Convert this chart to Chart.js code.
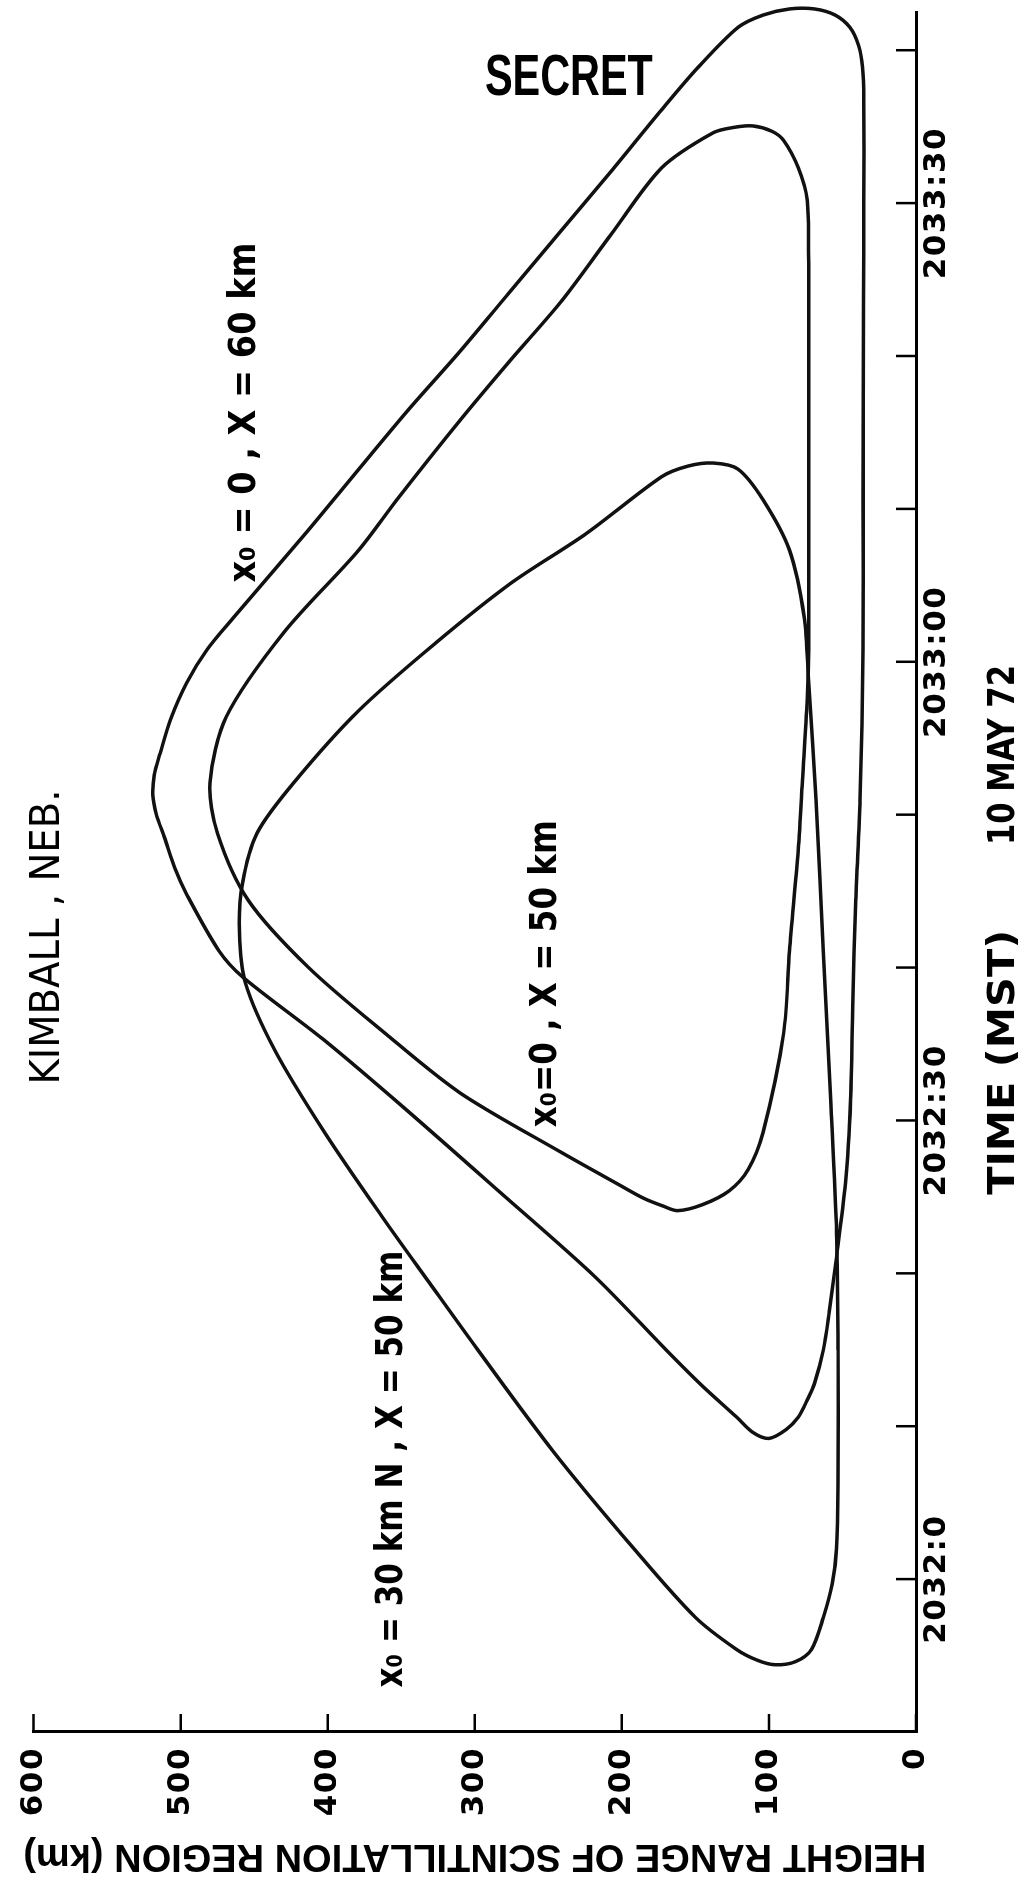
<!DOCTYPE html>
<html>
<head>
<meta charset="utf-8">
<script src="https://cdn.jsdelivr.net/npm/chart.js"></script>
<style>
  html, body { margin: 0; padding: 0; background: #fff; overflow: hidden; }
  #wrap { position: relative; width: 1018px; height: 1888px; }
  /* la figura original está girada: el gráfico se dibuja acostado y se gira -90° */
  #heightChart { position: absolute; left: 0; top: 0; transform-origin: 0 0; transform: translate(0, 1888px) rotate(-90deg); }
</style>
</head>
<body>
<div id="wrap"><canvas id="heightChart" width="1888" height="1018"></canvas></div>
<script>
// Marcas de los ejes
const timeTickMarks = [0, 10, 20, 30, 40, 50, 60, 70, 80, 90, 100];
const timeTickValues = [0, 30, 60, 90];
const timeTickLabels = ['2032:0', '2032:30', '2033:00', '2033:30'];
const heightTicks = [0, 100, 200, 300, 400, 500, 600];

// x0 = 0 , X = 60 km (segundos desde 2032:00, altura en km)
const timeX60 = [70.6, 60.8, 51.0, 44.4, 37.5, 31.3, 25.9, 20.4, 17.5, 15.0, 12.8, 11.7, 10.6, 9.8, 9.2, 9.6, 10.6, 12.7, 15.0, 19.75, 25.4, 30.9, 35.3, 39.4, 41.1, 44.8, 46.5, 48.5, 50.0, 51.3, 52.6, 54.0, 56.2, 58.6, 60.8, 62.9, 68.4, 72.7, 76.5, 80.2, 84.1, 88.0, 92.0, 96.1, 98.9, 101.5, 102.3, 102.7, 102.7, 102.3, 101.5, 100.3, 98.9, 96.7, 90.0, 83.6, 70.6];
const heightX60 = [36, 36, 38, 41, 43, 44.5, 48, 55, 59, 63, 69, 74, 80, 88, 100, 111, 122, 146, 170, 218, 284, 349, 403, 458, 474, 496, 504, 511, 516.5, 519, 518, 514, 507, 496, 482, 464, 415, 378, 345, 311, 277, 243, 208, 173, 148, 121, 104, 86, 69, 55, 45, 39, 36.4, 35.5, 35.5, 35.7, 36];

// x0 = 0 , X = 50 km
const timeX50 = [70.6, 60.8, 57.5, 52.5, 47.7, 41.1, 35.7, 29.2, 26.8, 25.4, 24.5, 24.1, 24.4, 24.9, 25.8, 27.9, 31.8, 35.7, 40.0, 44.4, 48.8, 52.1, 56.4, 61.9, 67.3, 70.6, 75.8, 79.7, 83.6, 88.0, 92.3, 94.6, 94.95, 95.05, 94.7, 94.1, 92.3, 90.2, 86.0, 83.6, 70.6];
const heightX50 = [73, 73, 74, 77, 80, 86, 90, 104, 114, 127, 145, 162, 172, 185, 202, 241, 310, 361, 413, 454, 475, 480, 469, 430, 379, 353, 310, 276, 241, 207, 173, 138, 124, 111, 98, 90, 80, 74, 73, 73, 73];

// x0 = 30 km N , X = 50 km
const time30N = [15.0, 6.3, 2.0, -0.3, -2.5, -4.6, -5.4, -5.6, -5.3, -4.6, -2.5, 1.9, 8.4, 15.0, 19.4, 23.7, 29.2, 34.6, 39.0, 42.3, 45.5, 48.8, 52.1, 56.8, 61.2, 65.1, 68.4, 72.1, 72.8, 73.0, 72.6, 70.6, 67.3, 62.9, 58.6, 51.0, 41.1, 31.3, 22.6, 15.0];
const height30N = [53, 53, 54, 57, 63, 71, 82, 96, 108, 122, 150, 191, 247, 298, 331, 363, 402, 436, 456, 460, 458, 448, 423, 379, 327, 276, 224, 173, 155, 138, 121, 104, 86, 76, 73, 68, 63, 58, 54, 53];

const toPoints = (ts, hs) => ts.map((t, i) => ({ x: t, y: hs[i] }));

// Textos sobre el gráfico (posición en unidades de los ejes)
const notes = [
  { text: 'SECRET', t: 98.1, h: 236, width: 168, turn: true, baseline: 'middle', font: 'bold 57px "Liberation Sans Narrow", "Liberation Sans", sans-serif' },
  { text: 'KIMBALL , NEB.', t: 42.0, h: 583, width: 295, font: '40px "DejaVu Sans", sans-serif' },
  { text: 'x₀ = 0 , X = 60 km', t: 76.3, h: 449.7, width: 340, font: 'bold 37px "DejaVu Sans", sans-serif' },
  { text: 'x₀=0 , X = 50 km', t: 39.6, h: 244.7, width: 307, font: 'bold 37px "DejaVu Sans", sans-serif' },
  { text: 'x₀ = 30 km N , X = 50 km', t: 7.2, h: 349.2, width: 437, font: 'bold 37px "DejaVu Sans", sans-serif' },
  { text: 'TIME (MST)', t: 33.8, h: -66.7, width: 265, font: 'bold 37px "DejaVu Sans", sans-serif' },
  { text: '10 MAY 72', t: 53.9, h: -66.7, width: 180, font: 'bold 37px "DejaVu Sans", sans-serif' }
];

// Marcas cortas hacia dentro del área del gráfico
const tickMarks = {
  id: 'tickMarks',
  afterDraw(chart) {
    const { ctx, chartArea, scales: { x, y } } = chart;
    ctx.save();
    ctx.strokeStyle = '#000';
    ctx.lineWidth = 2.5;
    ctx.beginPath();
    x.ticks.forEach(tk => {
      const px = x.getPixelForValue(tk.value);
      ctx.moveTo(px, chartArea.bottom);
      ctx.lineTo(px, chartArea.bottom - 20);
    });
    y.ticks.forEach(tk => {
      const py = y.getPixelForValue(tk.value);
      ctx.moveTo(chartArea.left, py);
      ctx.lineTo(chartArea.left + 18, py);
    });
    ctx.stroke();
    ctx.restore();
  }
};

// Espaciado de letras solo para las etiquetas de los ejes
const tickSpacing = {
  id: 'tickSpacing',
  afterDatasetsDraw(chart) { chart.ctx.letterSpacing = '1.5px'; },
  afterDraw(chart) { chart.ctx.letterSpacing = '0px'; }
};

const noteLabels = {
  id: 'noteLabels',
  afterDraw(chart) {
    const { ctx, scales: { x, y } } = chart;
    notes.forEach(n => {
      ctx.save();
      ctx.letterSpacing = '0px';
      ctx.font = n.font;
      ctx.fillStyle = '#000';
      ctx.textAlign = 'left';
      ctx.textBaseline = n.baseline || 'alphabetic';
      const w = ctx.measureText(n.text).width;
      ctx.translate(x.getPixelForValue(n.t), y.getPixelForValue(n.h));
      if (n.turn) ctx.rotate(Math.PI / 2);
      ctx.scale(n.width / w, 1);
      ctx.fillText(n.text, -w / 2, 0);
      ctx.restore();
    });
  }
};

const lineStyle = {
  showLine: true,
  borderColor: '#111',
  borderWidth: 3.5,
  pointRadius: 0,
  tension: 0.3,
  fill: false,
  clip: 8,
  borderJoinStyle: 'round',
  borderCapStyle: 'round'
};

const ctx = document.getElementById('heightChart').getContext('2d');

const heightChart = new Chart(ctx, {
  type: 'scatter',
  data: {
    datasets: [
      { label: 'x0 = 0 , X = 60 km', data: toPoints(timeX60, heightX60), ...lineStyle },
      { label: 'x0 = 0 , X = 50 km', data: toPoints(timeX50, heightX50), ...lineStyle },
      { label: 'x0 = 30 km N , X = 50 km', data: toPoints(time30N, height30N), ...lineStyle }
    ]
  },
  options: {
    responsive: false,
    animation: false,
    devicePixelRatio: 1,
    layout: { padding: { top: 26, right: 12, left: 0, bottom: 0 } },
    plugins: { legend: { display: false }, tooltip: { enabled: false } },
    scales: {
      x: {
        type: 'linear',
        position: 'bottom',
        min: -10,
        max: 102.5,
        grid: { display: false, drawTicks: false },
        border: { display: true, color: '#000', width: 3 },
        afterBuildTicks: s => { s.ticks = timeTickMarks.map(v => ({ value: v })); },
        afterFit: s => { s.height = 102; },
        ticks: {
          z: 1,
          autoSkip: false,
          maxRotation: 0,
          padding: 2,
          color: '#000',
          font: { family: 'DejaVu Sans', size: 31, weight: 'bold' },
          callback: v => {
            const i = timeTickValues.indexOf(v);
            return i >= 0 ? timeTickLabels[i] : '';
          }
        }
      },
      y: {
        type: 'linear',
        min: 0,
        max: 600,
        grid: { display: false, drawTicks: false },
        border: { display: true, color: '#000', width: 3 },
        afterBuildTicks: s => { s.ticks = heightTicks.map(v => ({ value: v })); },
        afterFit: s => { s.width = 156; },
        ticks: {
          z: 1,
          padding: 15,
          color: '#000',
          font: { family: 'DejaVu Sans', size: 31, weight: 'bold' }
        },
        title: {
          display: true,
          text: 'HEIGHT RANGE OF SCINTILLATION REGION (km)',
          color: '#000',
          font: { family: 'Liberation Sans', size: 38, weight: 'bold' },
          padding: { top: 10, bottom: 0 }
        }
      }
    }
  },
  plugins: [tickMarks, tickSpacing, noteLabels]
});
</script>
</body>
</html>
